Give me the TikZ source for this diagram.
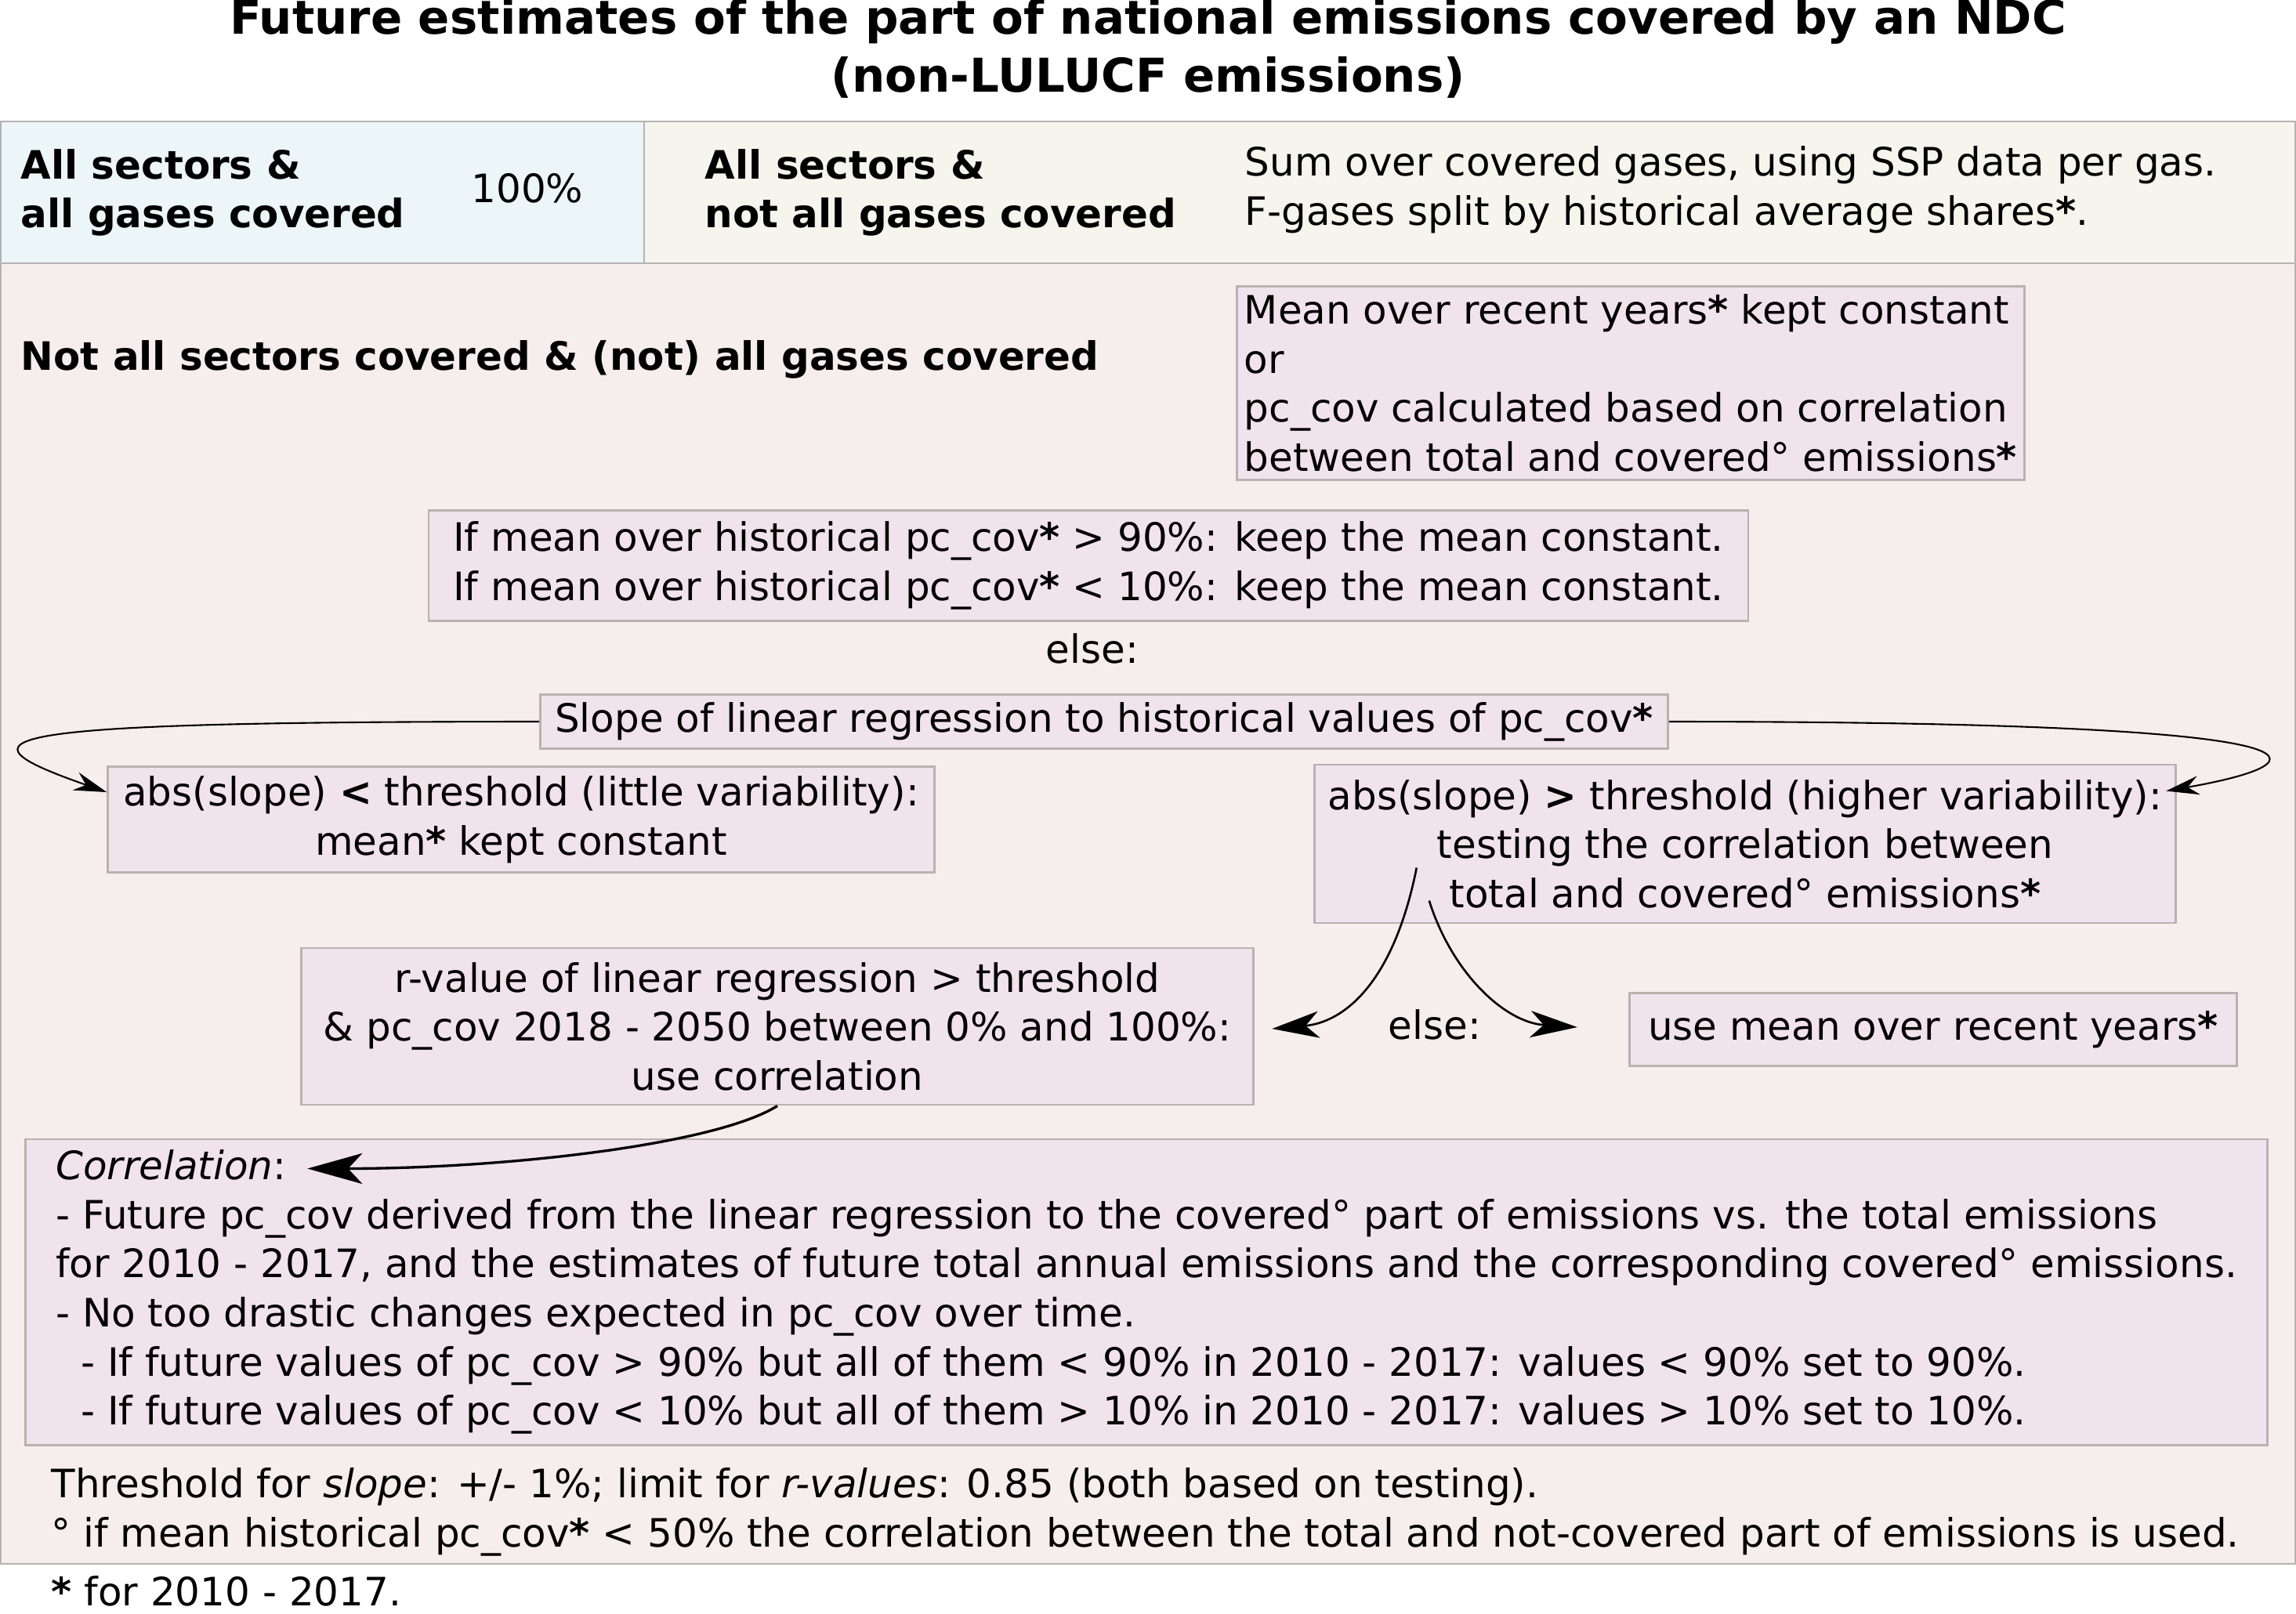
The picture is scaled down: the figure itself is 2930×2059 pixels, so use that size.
\documentclass[tikz,border=0pt]{standalone}
\usepackage{fontspec}
\setmainfont{DejaVu Sans}
\usetikzlibrary{arrows.meta,calc}
\definecolor{panel}{RGB}{246,238,237}
\definecolor{boxfill}{RGB}{241,227,236}
\definecolor{allfill}{RGB}{236,245,248}
\definecolor{gasfill}{RGB}{245,245,238}
\definecolor{edge}{RGB}{184,178,178}
\newcommand{\st}{\textbf{*}}

\begin{document}
\begin{tikzpicture}[x=0.01cm,y=-0.01cm,
    txt/.style={font=\fontsize{14.2}{17.8}\selectfont,inner sep=0pt},
    hd/.style={txt,font=\fontsize{14.2}{17.8}\selectfont\bfseries},
    pbox/.style={txt,draw=edge,line width=0.8pt,fill=boxfill,align=center},
    flow/.style={-{Stealth[length=6mm,width=3.4mm,inset=1.7mm]},line width=0.75pt},
    loop/.style={-{Stealth[length=4.2mm,width=2.4mm,inset=1.4mm]},line width=0.6pt},
    thick flow/.style={-{Stealth[length=7mm,width=3.9mm,inset=1.8mm]},line width=0.95pt}]
    \useasboundingbox (0,0) rectangle (2930,2059);
    \fill[white] (0,0) rectangle (2930,2059);
    \node[txt,font=\fontsize{16.9}{21}\selectfont\bfseries,align=center] (title) at (1465,62)
      {Future estimates of the part of national emissions covered by an NDC\\(non-LULUCF emissions)};
    \draw[edge,line width=0.8pt,fill=allfill] (1,155) rectangle (822,336);
    \draw[edge,line width=0.8pt,fill=gasfill] (822,155) rectangle (2929,336);
    \draw[edge,line width=0.8pt,fill=panel] (1,336) rectangle (2929,1996);
    \node[hd,anchor=west,align=left] (allsec) at (26,246) {All sectors \&\\all gases covered};
    \node[txt] (hundred) at (673,240) {100\%};
    \node[hd,anchor=west,align=left] (notgas) at (899,246) {All sectors \&\\not all gases covered};
    \node[txt,anchor=west,align=left] (ssp) at (1588,242)
      {Sum over covered gases, using SSP data per gas.\\F-gases split by historical average shares\st.};
    \node[hd,anchor=west] (notsec) at (26,459) {Not all sectors covered \& (not) all gases covered};
    \node[pbox,align=left,minimum width=10.05cm,minimum height=2.47cm] (meanbox) at (2081,489)
      {Mean over recent years\st{} kept constant\\or\\pc\_cov calculated based on correlation\\between total and covered° emissions\st};
    \node[pbox,align=left,minimum width=16.83cm,minimum height=1.41cm] (ifbox) at (1389,722)
      {If mean over historical pc\_cov\st{} > 90\%: keep the mean constant.\\If mean over historical pc\_cov\st{} < 10\%: keep the mean constant.};
    \node[txt] (else1) at (1394,828) {else:};
    \node[pbox,minimum width=14.38cm,minimum height=0.69cm] (slope) at (1409,921)
      {Slope of linear regression to historical values of pc\_cov\st};
    \node[pbox,minimum width=10.54cm,minimum height=1.35cm] (absl) at (665,1046)
      {abs(slope) \textbf{<} threshold (little variability):\\mean\st{} kept constant};
    \node[pbox,minimum width=10.99cm,minimum height=2.02cm] (absg) at (2227,1077)
      {abs(slope) \textbf{>} threshold (higher variability):\\testing the correlation between\\total and covered° emissions\st};
    \node[pbox,minimum width=12.15cm,minimum height=2.00cm] (rval) at (992,1310)
      {r-value of linear regression > threshold\\\& pc\_cov 2018 - 2050 between 0\% and 100\%:\\use correlation};
    \node[txt] (else2) at (1831,1308) {else:};
    \node[pbox,minimum width=7.75cm,minimum height=0.93cm] (usemean) at (2467,1314)
      {use mean over recent years\st};
    \node[pbox,align=left,minimum width=28.59cm,minimum height=3.90cm] (corr) at (1463,1649)
      {\textit{Correlation}:\\
       - Future pc\_cov derived from the linear regression to the covered° part of emissions vs. the total emissions\\
       for 2010 - 2017, and the estimates of future total annual emissions and the corresponding covered° emissions.\\
       - No too drastic changes expected in pc\_cov over time.\\
       \hspace*{0.32cm}- If future values of pc\_cov > 90\% but all of them < 90\% in 2010 - 2017: values < 90\% set to 90\%.\\
       \hspace*{0.32cm}- If future values of pc\_cov < 10\% but all of them > 10\% in 2010 - 2017: values > 10\% set to 10\%.};
    \node[txt,anchor=west,align=left] (notes) at (65,1930)
      {Threshold for \textit{slope}: +/- 1\%; limit for \textit{r-values}: 0.85 (both based on testing).\\
       ° if mean historical pc\_cov\st{} < 50\% the correlation between the total and not-covered part of emissions is used.};
    \node[txt,anchor=west] (star) at (65,2031) {\st{} for 2010 - 2017.};
    \coordinate (abslin) at ($(absl.north west)+(0,34)$);
    \coordinate (absgin) at ($(absg.north east)+(-14,35)$);
    \coordinate (split1) at ($(absg.south west)+(132,-72)$);
    \coordinate (split2) at ($(absg.south west)+(148,-30)$);
    \coordinate (rvalin) at ($(rval.east)+(22,3)$);
    \coordinate (meanin) at ($(usemean.west)+(-65,-3)$);
    \coordinate (corrin) at ($(corr.north west)+(361,39)$);
    \draw[loop] (slope.west) .. controls +(-720,0) and +(-200,-70) .. (abslin);
    \draw[loop] (slope.east) .. controls +(900,0) and +(200,-35) .. (absgin);
    \draw[flow] (split1) .. controls +(-30,150) and +(90,-8) .. (rvalin);
    \draw[flow] (split2) .. controls +(29,92) and +(-93,-6) .. (meanin);
    \draw[thick flow] (rval.south) .. controls +(-80,50) and +(250,0) .. (corrin);
  \end{tikzpicture}
\end{document}
